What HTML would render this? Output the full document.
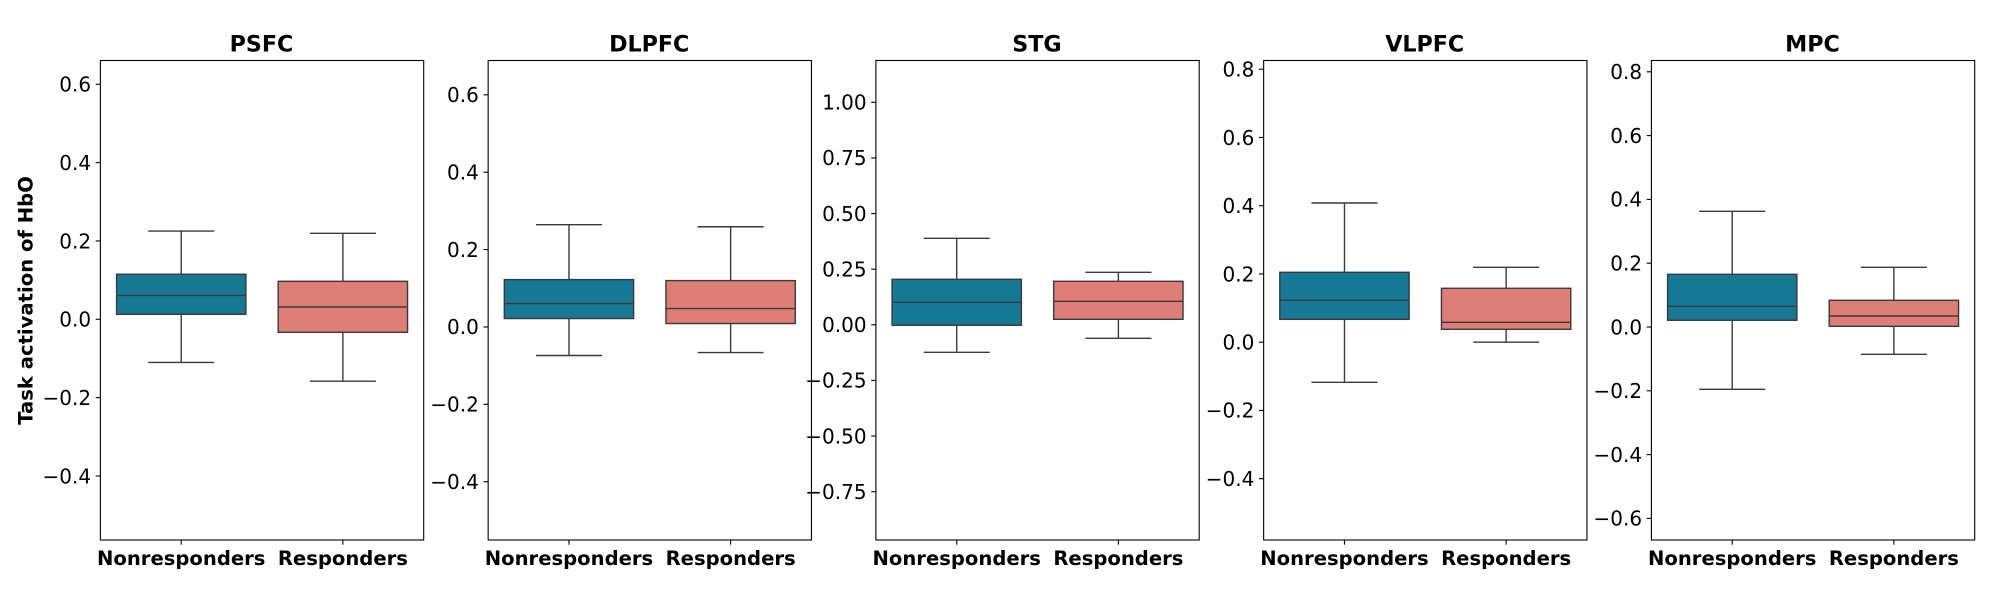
<!DOCTYPE html>
<html lang="en">
<head>
<meta charset="utf-8">
<title>Task activation of HbO by region</title>
<style>
  html, body { margin: 0; padding: 0; background: #ffffff; }
  body { width: 2000px; height: 600px; overflow: hidden; }
  svg { display: block; }
  text { font-family: "DejaVu Sans", "Liberation Sans", sans-serif; fill: #000000; }
</style>
</head>
<body>
<svg id="chart" xmlns="http://www.w3.org/2000/svg" width="2000" height="600" viewBox="0 0 2000 600"></svg>
<script>
const regions = ["PSFC", "DLPFC", "STG", "VLPFC", "MPC"];
const categories = ["Nonresponders", "Responders"];
const yAxisTitle = "Task activation of HbO";

const yDomainMin = [-0.5634, -0.5507, -0.9672, -0.5797, -0.6677];
const yDomainMax = [0.6607, 0.6887, 1.1879, 0.8256, 0.8354];

const yTicksPSFC = [-0.4, -0.2, 0.0, 0.2, 0.4, 0.6];
const yTicksDLPFC = [-0.4, -0.2, 0.0, 0.2, 0.4, 0.6];
const yTicksSTG = [-0.75, -0.5, -0.25, 0.0, 0.25, 0.5, 0.75, 1.0];
const yTicksVLPFC = [-0.4, -0.2, 0.0, 0.2, 0.4, 0.6, 0.8];
const yTicksMPC = [-0.6, -0.4, -0.2, 0.0, 0.2, 0.4, 0.6, 0.8];
const yTickDecimals = [1, 1, 2, 1, 1];

const nonresponderWhiskerHigh = [0.2254, 0.2644, 0.3888, 0.408, 0.3627];
const nonresponderQ3 = [0.115, 0.1224, 0.2045, 0.2049, 0.1652];
const nonresponderMedian = [0.061, 0.0604, 0.101, 0.1228, 0.0649];
const nonresponderQ1 = [0.0128, 0.0217, -0.0022, 0.067, 0.021];
const nonresponderWhiskerLow = [-0.11, -0.0738, -0.1236, -0.1175, -0.1953];

const responderWhiskerHigh = [0.2195, 0.259, 0.236, 0.2195, 0.1871];
const responderQ3 = [0.097, 0.1198, 0.1955, 0.158, 0.0837];
const responderMedian = [0.0314, 0.0475, 0.1056, 0.0583, 0.0345];
const responderQ1 = [-0.0332, 0.0088, 0.0247, 0.0378, 0.0022];
const responderWhiskerLow = [-0.158, -0.0661, -0.0607, 0, -0.0856];

const yTicksByRegion = [yTicksPSFC, yTicksDLPFC, yTicksSTG, yTicksVLPFC, yTicksMPC];
const boxColors = ["#157894", "#de7e76"];

const svg = document.getElementById('chart');
const NS = 'http://www.w3.org/2000/svg';
const LINE = '#3a3a3a';
const PANEL_W = 323.3;
const PANEL_STEP = 387.75;
const PANEL_X0 = 100.4;
const PANEL_TOP = 60.5;
const PANEL_BOTTOM = 540;

function make(tag, parent, props, text) {
  const el = document.createElementNS(NS, tag);
  for (const k in props) el.setAttribute(k, props[k]);
  if (text !== undefined) el.textContent = text;
  parent.appendChild(el);
  return el;
}

function yScale(panel, value) {
  const lo = yDomainMin[panel], hi = yDomainMax[panel];
  return PANEL_BOTTOM - (value - lo) / (hi - lo) * (PANEL_BOTTOM - PANEL_TOP);
}

function xScale(panel, position) {
  const left = PANEL_X0 + panel * PANEL_STEP;
  return left + (position + 0.5) / 2 * PANEL_W;
}

function tickText(value, decimals) {
  const s = Math.abs(value).toFixed(decimals);
  return (value < 0 ? '\u2212' : '') + s;
}

function drawBox(group, p, c, stats) {
  const cx = xScale(p, c);
  const boxL = xScale(p, c - 0.4);
  const boxR = xScale(p, c + 0.4);
  const capL = xScale(p, c - 0.2);
  const capR = xScale(p, c + 0.2);
  const line = { stroke: LINE, 'stroke-width': 1.4, fill: 'none' };
  const key = categories[c].toLowerCase();

  const whiskerUp = make('line', group, { ...line, x1: cx, x2: cx, y1: yScale(p, stats.q3), y2: yScale(p, stats.high) });
  
  

  const whiskerDown = make('line', group, { ...line, x1: cx, x2: cx, y1: yScale(p, stats.q1), y2: yScale(p, stats.low) });
  
  

  const capUp = make('line', group, { ...line, x1: capL, x2: capR, y1: yScale(p, stats.high), y2: yScale(p, stats.high), 'stroke-linecap': 'square' });
  
  

  const capDown = make('line', group, { ...line, x1: capL, x2: capR, y1: yScale(p, stats.low), y2: yScale(p, stats.low), 'stroke-linecap': 'square' });
  
  

  const box = make('rect', group, {
    x: boxL, width: boxR - boxL,
    y: yScale(p, stats.q3), height: yScale(p, stats.q1) - yScale(p, stats.q3),
    fill: boxColors[c], stroke: LINE, 'stroke-width': 1.4
  });
  
  

  const median = make('line', group, { ...line, x1: boxL, x2: boxR, y1: yScale(p, stats.median), y2: yScale(p, stats.median) });
  
  
}

regions.forEach(function (region, p) {
  const left = PANEL_X0 + p * PANEL_STEP;

  const panel = make('g', svg, {});
  
  

  const title = make('text', panel, {
    x: left + PANEL_W / 2 - 0.6, y: 51.5, 'text-anchor': 'middle',
    'font-size': 22.2, 'font-weight': 'bold'
  }, region);
  
  

  const nrStats = {
    high: nonresponderWhiskerHigh[p], q3: nonresponderQ3[p], median: nonresponderMedian[p],
    q1: nonresponderQ1[p], low: nonresponderWhiskerLow[p]
  };
  const rStats = {
    high: responderWhiskerHigh[p], q3: responderQ3[p], median: responderMedian[p],
    q1: responderQ1[p], low: responderWhiskerLow[p]
  };
  drawBox(panel, p, 0, nrStats);
  drawBox(panel, p, 1, rStats);

  const frame = make('rect', panel, {
    x: left, y: PANEL_TOP, width: PANEL_W, height: PANEL_BOTTOM - PANEL_TOP,
    fill: 'none', stroke: '#000000', 'stroke-width': 1.1
  });
  
  

  yTicksByRegion[p].forEach(function (value) {
    const y = yScale(p, value);
    const mark = make('line', panel, { x1: left - 4.7, x2: left, y1: y, y2: y, stroke: '#000000', 'stroke-width': 1.1 });
    
    

    const label = make('text', panel, {
      x: left - 9.3, y: y + 7.3, 'text-anchor': 'end', 'font-size': 20
    }, tickText(value, yTickDecimals[p]));
    
    
  });

  categories.forEach(function (category, c) {
    const x = xScale(p, c);
    const mark = make('line', panel, { x1: x, x2: x, y1: PANEL_BOTTOM, y2: PANEL_BOTTOM + 4.7, stroke: '#000000', 'stroke-width': 1.1 });
    
    

    const label = make('text', panel, {
      x: x, y: 565, 'text-anchor': 'middle', 'font-size': 19.6, 'font-weight': 'bold'
    }, category);
    
    
  });
});

const yTitle = make('text', svg, {
  transform: 'translate(32.5 300.5) rotate(-90)', 'text-anchor': 'middle',
  'font-size': 19.6, 'font-weight': 'bold'
}, yAxisTitle);


</script>
</body>
</html>
